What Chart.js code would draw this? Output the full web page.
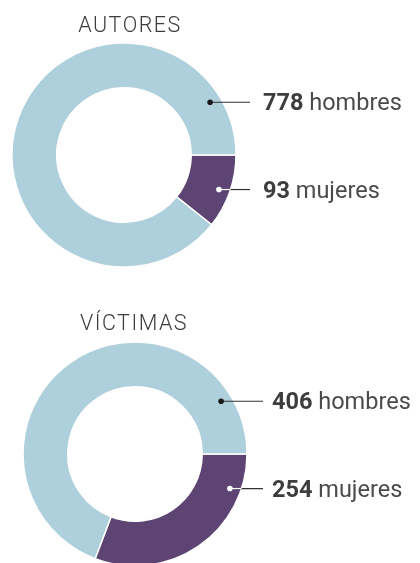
<!DOCTYPE html>
<html><head><meta charset="utf-8">
<script src="https://cdn.jsdelivr.net/npm/chart.js@4/dist/chart.umd.min.js"></script>
<style>
html,body{margin:0;padding:0;background:#fff;overflow:hidden;width:420px;height:563px;}
.box{position:absolute;left:0;width:420px;}
#b1{top:0;height:290px;}
#b2{top:290px;height:285px;}
</style></head><body>
<div class="box" id="b1"><canvas id="c1"></canvas></div>
<div class="box" id="b2"><canvas id="c2"></canvas></div>
<script>
// Data
const categories = ["mujeres", "hombres"];
const autoresCounts = [93, 778];
const victimasCounts = [254, 406];
// Slice shares (%) as drawn in the reference picture
const autoresShares = [10.7, 89.3];
const victimasShares = [30.8, 69.2];
const titles = ["AUTORES", "VÍCTIMAS"];

const COLORS = ["#5e4472", "#aecfdc"];

const callouts = {
  id: "callouts",
  afterDatasetsDraw(chart, args, opts) {
    const ctx = chart.ctx;
    const meta = chart.getDatasetMeta(0);
    const arc = meta.data[0];
    const cx = arc.x, cy = arc.y, R = arc.outerRadius;
    ctx.save();
    // title
    ctx.font = "300 21.5px Roboto";
    ctx.letterSpacing = "1.5px";
    ctx.fillStyle = "#3c3c3c";
    ctx.textAlign = "center";
    ctx.textBaseline = "alphabetic";
    ctx.fillText(opts.title, opts.titleX, opts.titleY);
    ctx.letterSpacing = "0px";
    ctx.textAlign = "left";
    const angles = [20, -31.5];
    opts.counts.forEach((v, i) => {
      const a = angles[i] * Math.PI / 180;
      const dx = cx + 101 * Math.cos(a), dy = cy + 101 * Math.sin(a);
      const edge = cx + Math.sqrt(Math.max(R * R - (dy - cy) * (dy - cy), 0));
      const lineEnd = cx + opts.lineEnd;
      ctx.lineWidth = 1.2;
      ctx.strokeStyle = "#333";
      ctx.beginPath(); ctx.moveTo(dx, dy); ctx.lineTo(lineEnd, dy); ctx.stroke();
      if (i === 0) {
        ctx.strokeStyle = "#fff";
        ctx.beginPath(); ctx.moveTo(dx, dy); ctx.lineTo(edge, dy); ctx.stroke();
      }
      ctx.fillStyle = i === 0 ? "#fff" : "#1a1a1a";
      ctx.beginPath(); ctx.arc(dx, dy, 2.8, 0, Math.PI * 2); ctx.fill();
      const tx = cx + opts.textX, ty = dy + 8;
      ctx.font = "700 23.5px Roboto";
      ctx.fillStyle = "#3d3d3d";
      const num = String(v);
      ctx.fillText(num, tx, ty);
      const w = ctx.measureText(num).width;
      ctx.font = "400 23.5px Roboto";
      ctx.fillStyle = "#4a4a4a";
      ctx.fillText(" " + categories[i], tx + w, ty);
    });
    ctx.restore();
  }
};

function makeChart(id, shares, counts, title, pad, titleX, titleY, lineEnd, textX) {
  return new Chart(document.getElementById(id), {
    type: "doughnut",
    data: {
      labels: categories,
      datasets: [{
        data: shares,
        backgroundColor: COLORS,
        borderColor: "#fff",
        borderWidth: 1.5,
        hoverOffset: 0
      }]
    },
    options: {
      responsive: true,
      maintainAspectRatio: false,
      animation: false,
      rotation: 90,
      cutout: "60%",
      layout: { padding: pad },
      plugins: {
        legend: { display: false },
        tooltip: { enabled: false },
        callouts: { title, counts, titleX, titleY, lineEnd, textX }
      }
    },
    plugins: [callouts]
  });
}

makeChart("c1", autoresShares, autoresCounts, titles[0],
  { left: 11.25, right: 183.25, top: 42.25, bottom: 22.25 }, 130, 32, 126, 139);
makeChart("c2", victimasShares, victimasCounts, titles[1],
  { left: 22.25, right: 172.25, top: 51.25, bottom: 8.25 }, 134, 40, 128, 137);
</script>
</body></html>
